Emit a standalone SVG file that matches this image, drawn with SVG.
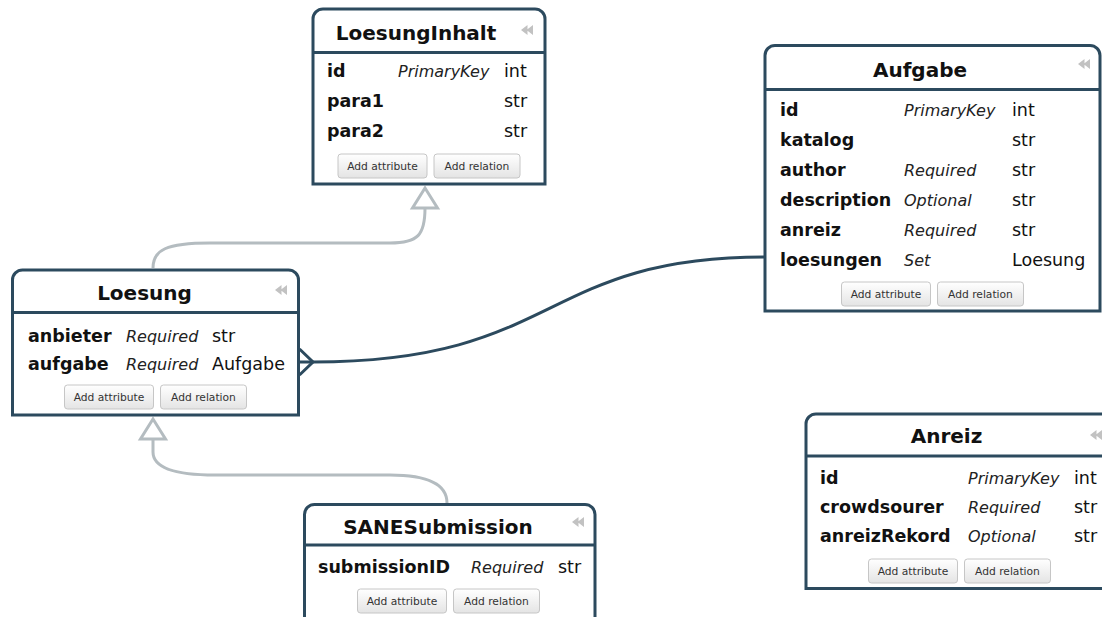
<svg xmlns="http://www.w3.org/2000/svg" xmlns:xlink="http://www.w3.org/1999/xlink" width="1102" height="617" viewBox="0 0 1102 617">
  <defs>
    <style>
      .box { fill: #ffffff; stroke: #2c4a5e; stroke-width: 3; }
      .sep { fill: none; stroke: #2c4a5e; stroke-width: 3; }
      .title { font-family: "DejaVu Sans", Verdana, sans-serif; font-weight: bold; font-size: 20px; fill: #111; text-anchor: middle; }
      .name { font-family: "DejaVu Sans", Verdana, sans-serif; font-weight: bold; font-size: 17.5px; fill: #111; }
      .opt { font-family: "DejaVu Sans", Verdana, sans-serif; font-style: italic; font-size: 16px; fill: #222; }
      .type { font-family: "DejaVu Sans", Verdana, sans-serif; font-size: 17.5px; fill: #111; }
      .btn rect { fill: url(#btnGrad); stroke: #c6c6c6; stroke-width: 1; }
      .btn text { font-family: "DejaVu Sans", Verdana, sans-serif; font-size: 10.7px; fill: #333; text-anchor: middle; }
      .gen { fill: none; stroke: #b4bcc0; stroke-width: 3; }
      .gen-head { fill: #ffffff; stroke: #b4bcc0; stroke-width: 3; stroke-linejoin: miter; }
      .rel { fill: none; stroke: #2c4a5e; stroke-width: 3; }
    </style>
    <linearGradient id="btnGrad" x1="0" y1="0" x2="0" y2="1">
      <stop offset="0" stop-color="#ffffff"/>
      <stop offset="1" stop-color="#e4e4e4"/>
    </linearGradient>
    <!-- collapse toggle shown in each header -->
    <path id="collapse" d="M0,5 L6.5,0 L6.5,10 Z M5.5,5 L12,0 L12,10 Z" fill="#c2c2c2"/>
  </defs>

  <!-- connectors -->
  <g id="connectors">
    <!-- Loesung extends LoesungInhalt -->
    <path class="gen" d="M153,268 C153,250 166,243 210,243 L390,243 C418,243 425,235 425,208"/>
    <path class="gen-head" d="M425,188 L412.5,208 L437.5,208 Z"/>
    <!-- SANESubmission extends Loesung -->
    <path class="gen" d="M153,439 L153,452 C153,468 175,475 215,475 L390,475 C425,475 447,483 447,503"/>
    <path class="gen-head" d="M153,419 L140.5,439 L165.5,439 Z"/>
    <!-- Aufgabe.loesungen 1 : n Loesung.aufgabe -->
    <path class="rel" d="M299,362 L313,362 C560,362 540,257 765,257"/>
    <path class="rel" d="M299.5,349 L313,362 L299.5,375"/>
  </g>

  <!-- LoesungInhalt -->
  <g id="LoesungInhalt">
    <path class="box" d="M313,184 V19 A10,10 0 0 1 323,9 H535 A10,10 0 0 1 545,19 V184 Z"/>
    <path class="sep" d="M313,52.5 H545"/>
    <text class="title" x="416" y="39.5">LoesungInhalt</text>
    <use xlink:href="#collapse" x="521" y="25"/>
    <text class="name" x="327" y="77">id</text>
    <text class="opt" x="398" y="77">PrimaryKey</text>
    <text class="type" x="504" y="77">int</text>
    <text class="name" x="327" y="107">para1</text>
    <text class="type" x="504" y="107">str</text>
    <text class="name" x="327" y="137">para2</text>
    <text class="type" x="504" y="137">str</text>
    <g class="btn">
      <rect x="338" y="154" width="89" height="24" rx="3"/>
      <text x="382.5" y="170">Add attribute</text>
      <rect x="434" y="154" width="86" height="24" rx="3"/>
      <text x="477" y="170">Add relation</text>
    </g>
  </g>

  <!-- Aufgabe -->
  <g id="Aufgabe">
    <path class="box" d="M765,311 V55.5 A10,10 0 0 1 775,45.5 H1090 A10,10 0 0 1 1100,55.5 V311 Z"/>
    <path class="sep" d="M765,89.5 H1100"/>
    <text class="title" x="920" y="77">Aufgabe</text>
    <use xlink:href="#collapse" x="1078" y="59"/>
    <text class="name" x="780" y="116">id</text>
    <text class="opt" x="904" y="116">PrimaryKey</text>
    <text class="type" x="1012" y="116">int</text>
    <text class="name" x="780" y="146">katalog</text>
    <text class="type" x="1012" y="146">str</text>
    <text class="name" x="780" y="176">author</text>
    <text class="opt" x="904" y="176">Required</text>
    <text class="type" x="1012" y="176">str</text>
    <text class="name" x="780" y="206">description</text>
    <text class="opt" x="904" y="206">Optional</text>
    <text class="type" x="1012" y="206">str</text>
    <text class="name" x="780" y="236">anreiz</text>
    <text class="opt" x="904" y="236">Required</text>
    <text class="type" x="1012" y="236">str</text>
    <text class="name" x="780" y="266">loesungen</text>
    <text class="opt" x="904" y="266">Set</text>
    <text class="type" x="1012" y="266">Loesung</text>
    <g class="btn">
      <rect x="841.5" y="282" width="89" height="24" rx="3"/>
      <text x="886" y="298">Add attribute</text>
      <rect x="937.5" y="282" width="86" height="24" rx="3"/>
      <text x="980.5" y="298">Add relation</text>
    </g>
  </g>

  <!-- Loesung -->
  <g id="Loesung">
    <path class="box" d="M12.5,415 V280 A10,10 0 0 1 22.5,270 H288.5 A10,10 0 0 1 298.5,280 V415 Z"/>
    <path class="sep" d="M12.5,312.5 H298.5"/>
    <text class="title" x="144.5" y="300">Loesung</text>
    <use xlink:href="#collapse" x="275" y="285"/>
    <text class="name" x="28" y="341.5">anbieter</text>
    <text class="opt" x="126" y="341.5">Required</text>
    <text class="type" x="212" y="341.5">str</text>
    <text class="name" x="28" y="370">aufgabe</text>
    <text class="opt" x="126" y="370">Required</text>
    <text class="type" x="212" y="370">Aufgabe</text>
    <g class="btn">
      <rect x="64.5" y="385" width="89" height="24" rx="3"/>
      <text x="109" y="401">Add attribute</text>
      <rect x="160.5" y="385" width="86" height="24" rx="3"/>
      <text x="203.5" y="401">Add relation</text>
    </g>
  </g>

  <!-- SANESubmission -->
  <g id="SANESubmission">
    <path class="box" d="M304.5,630 V514.5 A10,10 0 0 1 314.5,504.5 H585 A10,10 0 0 1 595,514.5 V630 Z"/>
    <path class="sep" d="M304.5,545 H595"/>
    <text class="title" x="438" y="534">SANESubmission</text>
    <use xlink:href="#collapse" x="572" y="517"/>
    <text class="name" x="318" y="573">submissionID</text>
    <text class="opt" x="471" y="573">Required</text>
    <text class="type" x="558" y="573">str</text>
    <g class="btn">
      <rect x="357.5" y="589" width="89" height="24" rx="3"/>
      <text x="402" y="605">Add attribute</text>
      <rect x="453.5" y="589" width="86" height="24" rx="3"/>
      <text x="496.5" y="605">Add relation</text>
    </g>
  </g>

  <!-- Anreiz -->
  <g id="Anreiz">
    <path class="box" d="M806,588.5 V424 A10,10 0 0 1 816,414 H1103 A10,10 0 0 1 1113,424 V588.5 Z"/>
    <path class="sep" d="M806,456 H1113"/>
    <text class="title" x="946.5" y="443">Anreiz</text>
    <use xlink:href="#collapse" x="1090" y="430"/>
    <text class="name" x="820" y="484">id</text>
    <text class="opt" x="968" y="484">PrimaryKey</text>
    <text class="type" x="1074" y="484">int</text>
    <text class="name" x="820" y="513">crowdsourer</text>
    <text class="opt" x="968" y="513">Required</text>
    <text class="type" x="1074" y="513">str</text>
    <text class="name" x="820" y="542">anreizRekord</text>
    <text class="opt" x="968" y="542">Optional</text>
    <text class="type" x="1074" y="542">str</text>
    <g class="btn">
      <rect x="868.5" y="559" width="89" height="24" rx="3"/>
      <text x="913" y="575">Add attribute</text>
      <rect x="964.5" y="559" width="86" height="24" rx="3"/>
      <text x="1007.5" y="575">Add relation</text>
    </g>
  </g>
</svg>
